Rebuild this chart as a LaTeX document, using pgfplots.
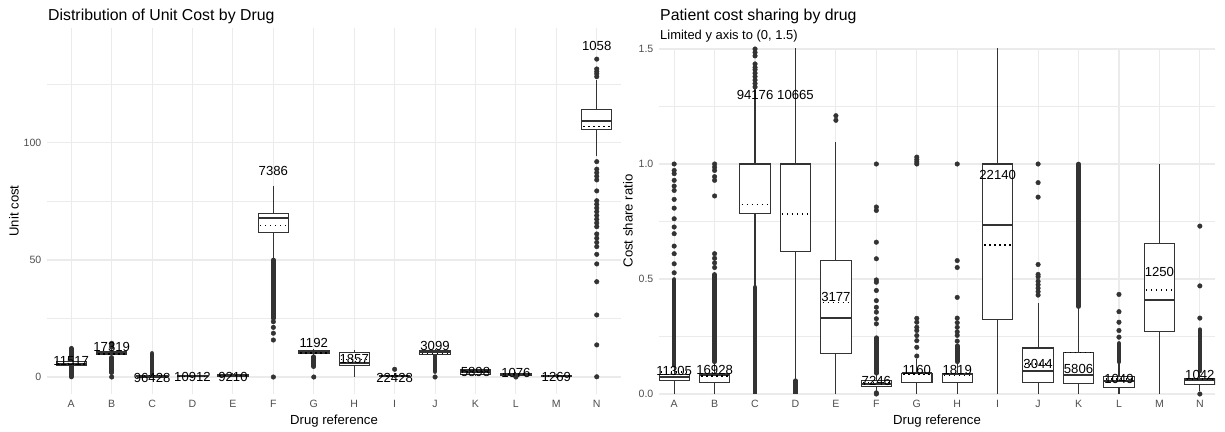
\documentclass[border=0pt]{standalone}
\usepackage{pgfplots}
\pgfplotsset{compat=1.18}
\usepgfplotslibrary{statistics}
\usepackage{fontspec}
\setmainfont{Liberation Sans}
\definecolor{grey20}{HTML}{333333}
\definecolor{grey30}{HTML}{4D4D4D}
\definecolor{gridc}{HTML}{EBEBEB}
\newcommand\bx[7]{\addplot[draw=grey20, line width=1.1bp, boxplot prepared={draw direction=y, draw position=#1, lower whisker=#2, lower quartile=#3, median=#4, upper quartile=#5, upper whisker=#6, average=#7}] coordinates {};}
\pgfplotsset{
  ggbox/.style={
    scale only axis,
    axis line style={draw=none},
    tick style={draw=none},
    major tick length=0pt, minor tick length=0pt,
    xtick={1,...,14},
    xticklabels={A,B,C,D,E,F,G,H,I,J,K,L,M,N},
    grid=both,
    major grid style={gridc, line width=1.1bp},
    minor grid style={gridc, line width=0.55bp},
    ticklabel style={font=\fontsize{10.6}{12}\selectfont, text=grey30},
    xticklabel style={anchor=north, inner sep=0pt, yshift=-6bp},
    yticklabel style={anchor=east, inner sep=0pt, xshift=-5.5bp},
    boxplot/draw direction=y,
    boxplot/box extend=0.75,
    boxplot/whisker extend=0,
    boxplot/every box/.style={draw=grey20, fill=white, line width=1.1bp},
    boxplot/every whisker/.style={draw=grey20, line width=1.1bp},
    boxplot/draw/median/.code={\draw[draw=grey20, line width=2.3bp] (boxplot box cs:\pgfplotsboxplotvalue{median},0) -- (boxplot box cs:\pgfplotsboxplotvalue{median},1);},
    boxplot/draw/average/.code={\draw[draw=black, line width=1.4bp, dash pattern=on 1.3bp off 3.7bp] (boxplot box cs:\pgfplotsboxplotvalue{average},0.06) -- (boxplot box cs:\pgfplotsboxplotvalue{average},0.94);},
  },
  out/.style={only marks, mark=*, mark size=2.3bp, grey20, mark options={draw=none, fill=grey20}},
  seg/.style={line width=4.6bp, line cap=round, grey20},
  lab/.style={only marks, mark=none, nodes near coords, point meta=explicit symbolic, nodes near coords style={anchor=center, inner sep=0pt, font=\fontsize{13.2}{14}\selectfont, text=black}},
}
\begin{document}
\begin{tikzpicture}
\useasboundingbox (0,0) rectangle (1225bp,432bp);
% ---------------- left panel ----------------
\begin{axis}[ggbox, at={(47bp,38bp)}, anchor=south west,
  width=574bp, height=366bp,
  xmin=0.4, xmax=14.6, ymin=-7.26, ymax=149.1,
  ytick={0,50,100}, yticklabels={0,50,100}, minor ytick={25,75,125}]
% dense outlier runs
\addplot[seg] coordinates {(1,0) (1,12.3)};
\addplot[seg] coordinates {(2,1.8) (2,8.4)};
\addplot[seg] coordinates {(3,1.0) (3,10.1)};
\addplot[seg] coordinates {(6,25) (6,50)};
\addplot[seg] coordinates {(7,4.4) (7,8.7)};
\addplot[seg] coordinates {(10,2.3) (10,9.0)};
% single outliers
\addplot[out] coordinates {
 (2,0) (2,12.8) (2,13.6) (2,14.4)
 (6,23.6) (6,21.2) (6,18.7) (6,15.8) (6,0)
 (7,0) (9,3.3) (10,0) (12,0)
 (14,128.3) (14,129.5) (14,130.5) (14,131.6) (14,135.8)
 (14,92.0) (14,88.8) (14,87.3) (14,85.8) (14,84.2) (14,79.5)
 (14,75.3) (14,73.8) (14,72.2) (14,70.6) (14,69.0) (14,67.4) (14,65.8) (14,64.2)
 (14,61.1) (14,59.3) (14,57.5) (14,55.7) (14,52.4) (14,48.3) (14,40.7)
 (14,26.5) (14,13.7) (14,0.1)
};
% boxes: pos, lower whisker, q1, median, q3, upper whisker, mean
\bx{1}{3.5}{4.8}{5.6}{6.5}{8.0}{5.5}
\bx{2}{9.0}{9.7}{10.3}{10.8}{12.0}{9.9}
\bx{3}{0}{0.1}{0.2}{0.5}{0.9}{0.6}
\bx{4}{0}{0.1}{0.3}{0.5}{1.0}{0.3}
\bx{5}{0}{0.4}{0.7}{1.0}{1.5}{0.7}
\bx{6}{50}{61.8}{67.8}{70}{81.6}{64.8}
\bx{7}{9.2}{10.1}{10.8}{11.5}{12}{10.3}
\bx{8}{0}{5.1}{6.0}{10.5}{11.5}{7.6}
\bx{9}{0}{0.1}{0.3}{0.8}{1.8}{0.5}
\bx{10}{9.2}{9.7}{10.8}{11.2}{11.8}{10.1}
\bx{11}{0.3}{1.2}{2.2}{3.0}{3.5}{2.1}
\bx{12}{0.5}{0.8}{1.2}{1.6}{2.0}{1.2}
\bx{13}{0}{0.2}{0.5}{0.8}{1.2}{0.5}
\bx{14}{94.4}{105.8}{109.4}{114.4}{127}{107}
\addplot[lab] table[meta=lab, row sep=\\] {
x y lab\\
1 6.8 11517\\
2 13 17319\\
3 -0.3 96428\\
4 -0.1 10912\\
5 -0.1 9210\\
6 88 7386\\
7 14.4 1192\\
8 7.5 1857\\
9 -0.4 22428\\
10 13.2 3099\\
11 2.3 5898\\
12 1.6 1076\\
13 -0.1 1269\\
14 141.5 1058\\
};
\end{axis}
% ---------------- right panel ----------------
\begin{axis}[ggbox, at={(659bp,38bp)}, anchor=south west,
  width=556bp, height=345bp,
  xmin=0.625, xmax=14.375, ymin=0, ymax=1.5,
  ytick={0,0.5,1,1.5}, yticklabels={0.0,0.5,1.0,1.5}, minor ytick={0.25,0.75,1.25}]
\addplot[seg] coordinates {(1,0.125) (1,0.498)};
\addplot[seg] coordinates {(2,0.14) (2,0.52)};
\addplot[seg] coordinates {(3,0) (3,0.464)};
\addplot[seg] coordinates {(4,0) (4,0.058)};
\addplot[seg] coordinates {(6,0.09) (6,0.245)};
\addplot[seg] coordinates {(8,0.14) (8,0.21)};
\addplot[seg] coordinates {(11,0.38) (11,1.0)};
\addplot[seg] coordinates {(12,0.14) (12,0.22)};
\addplot[seg] coordinates {(14,0.10) (14,0.28)};
\addplot[out] coordinates {
 (1,0.527) (1,0.566) (1,0.610) (1,0.643) (1,0.697) (1,0.726) (1,0.762) (1,0.808)
 (1,0.846) (1,0.885) (1,0.904) (1,0.929) (1,0.958) (1,0.972) (1,1.0)
 (2,0.55) (2,0.57) (2,0.59) (2,0.61) (2,0.861) (2,0.929) (2,0.945) (2,0.972) (2,0.986) (2,1.0)
 (3,1.335) (3,1.35) (3,1.365) (3,1.38) (3,1.395) (3,1.41) (3,1.42) (3,1.435) (3,1.47) (3,1.485) (3,1.5) (3,1.52)
 (5,1.19) (5,1.21)
 (6,0) (6,0.005) (6,0.305) (6,0.327) (6,0.356) (6,0.377) (6,0.406) (6,0.45) (6,0.486) (6,0.496)
 (6,0.588) (6,0.660) (6,0.798) (6,0.813) (6,1.0)
 (7,0.165) (7,0.203) (7,0.232) (7,0.254) (7,0.276) (7,0.29) (7,0.312) (7,0.329)
 (7,1.0) (7,1.009) (7,1.019) (7,1.03)
 (8,0.23) (8,0.255) (8,0.27) (8,0.29) (8,0.31) (8,0.33) (8,0.42) (8,0.55) (8,0.58) (8,1.0)
 (10,0.43) (10,0.445) (10,0.46) (10,0.475) (10,0.49) (10,0.51) (10,0.52) (10,0.563) (10,0.856) (10,0.919) (10,1.0)
 (12,0.247) (12,0.276) (12,0.312) (12,0.358) (12,0.433)
 (14,0) (14,0.33) (14,0.47) (14,0.73)
};
\bx{1}{0}{0.058}{0.075}{0.083}{0.12}{0.095}
\bx{2}{0}{0.05}{0.083}{0.087}{0.13}{0.078}
\bx{3}{0.464}{0.785}{1.0}{1.0}{1.335}{0.824}
\bx{4}{0.065}{0.621}{1.0}{1.0}{2.0}{0.782}
\bx{5}{0}{0.177}{0.331}{0.58}{1.096}{0.399}
\bx{6}{0.012}{0.033}{0.044}{0.058}{0.09}{0.05}
\bx{7}{0}{0.05}{0.09}{0.09}{0.152}{0.085}
\bx{8}{0}{0.05}{0.087}{0.09}{0.14}{0.08}
\bx{9}{0}{0.322}{0.736}{1.0}{2.0}{0.647}
\bx{10}{0}{0.05}{0.099}{0.2}{0.396}{0.13}
\bx{11}{0}{0.044}{0.084}{0.18}{0.377}{0.18}
\bx{12}{0}{0.029}{0.058}{0.075}{0.138}{0.065}
\bx{13}{0}{0.271}{0.409}{0.656}{1.0}{0.453}
\bx{14}{0.012}{0.04}{0.061}{0.068}{0.10}{0.065}
\addplot[lab] table[meta=lab, row sep=\\] {
x y lab\\
1 0.102 11305\\
2 0.104 16928\\
3 1.299 94176\\
4 1.299 10665\\
5 0.424 3177\\
6 0.058 7246\\
7 0.104 1160\\
8 0.104 1819\\
9 0.954 22140\\
10 0.131 3044\\
11 0.109 5806\\
12 0.065 1049\\
13 0.53 1250\\
14 0.084 1042\\
};
\end{axis}
% titles and axis titles
\node[anchor=base west, inner sep=0pt, font=\fontsize{15.9}{18}\selectfont] at (48bp,411bp) {Distribution of Unit Cost by Drug};
\node[anchor=base west, inner sep=0pt, font=\fontsize{15.9}{18}\selectfont] at (660bp,411.3bp) {Patient cost sharing by drug};
\node[anchor=base west, inner sep=0pt, font=\fontsize{13}{15}\selectfont] at (660bp,392.7bp) {Limited y axis to (0, 1.5)};
\node[anchor=base, inner sep=0pt, font=\fontsize{13.2}{15}\selectfont] at (334bp,8bp) {Drug reference};
\node[anchor=base, inner sep=0pt, font=\fontsize{13.2}{15}\selectfont] at (937bp,8bp) {Drug reference};
\node[rotate=90, inner sep=0pt, font=\fontsize{13.2}{15}\selectfont] at (14bp,221bp) {Unit cost};
\node[rotate=90, inner sep=0pt, font=\fontsize{13.2}{15}\selectfont] at (628bp,211bp) {Cost share ratio};
\end{tikzpicture}
\end{document}
